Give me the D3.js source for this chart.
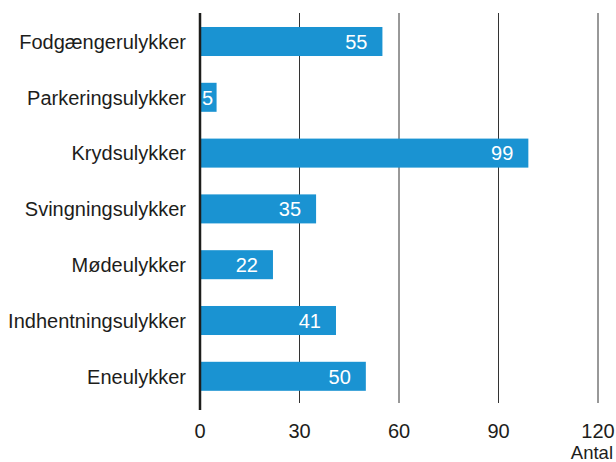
<!DOCTYPE html>
<html>
<head>
<meta charset="utf-8">
<script src="https://cdn.jsdelivr.net/npm/d3@7"></script>
<style>
	body { margin: 0; background: #fff; }
	text { font-family: "Liberation Sans", Arial, sans-serif; }
</style>
</head>
<body>
<div id="chart"></div>
<script>
var categories = ['Fodgængerulykker', 'Parkeringsulykker', 'Krydsulykker', 'Svingningsulykker', 'Mødeulykker', 'Indhentningsulykker', 'Eneulykker'];
var values = [55, 5, 99, 35, 22, 41, 50];
var ticks = [0, 30, 60, 90, 120];
var axisTitle = 'Antal';

var svg = d3.select('#chart').append('svg')
	.attr('width', 616)
	.attr('height', 462);

var x = d3.scaleLinear().domain([0, 120]).range([200, 598]);
var y = d3.scaleBand().domain(categories).range([13.6, 404.2])
	.paddingInner(0.48).paddingOuter(0.24);

// gridlines
svg.selectAll('.grid')
	.data(ticks.slice(1))
	.enter()
	.append('line')
	.attr('x1', function(d){ return x(d); })
	.attr('x2', function(d){ return x(d); })
	.attr('y1', 13)
	.attr('y2', 403)
	.attr('stroke', '#333')
	.attr('stroke-width', 1);

// bars
var data = categories.map(function(c, i){ return { cat: c, val: values[i] }; });

svg.selectAll('.bar')
	.data(data)
	.enter()
	.append('rect')
	.attr('x', x(0))
	.attr('y', function(d){ return y(d.cat); })
	.attr('width', function(d){ return x(d.val) - x(0); })
	.attr('height', y.bandwidth())
	.attr('fill', '#1a93d2');

// value labels
svg.selectAll('.val')
	.data(data)
	.enter()
	.append('text')
	.attr('x', function(d){ return Math.max(x(d.val) - 15, x(0) + 13); })
	.attr('y', function(d){ return y(d.cat) + y.bandwidth() / 2; })
	.attr('dy', '0.36em')
	.attr('text-anchor', 'end')
	.attr('fill', '#fff')
	.style('font-size', '20px')
	.text(function(d){ return d.val; });

// category labels
svg.selectAll('.cat')
	.data(categories)
	.enter()
	.append('text')
	.attr('x', 186)
	.attr('y', function(d){ return y(d) + y.bandwidth() / 2; })
	.attr('dy', '0.36em')
	.attr('text-anchor', 'end')
	.attr('fill', '#1d1d1b')
	.style('font-size', '20px')
	.text(function(d){ return d; });

// axis line
svg.append('line')
	.attr('x1', x(0)).attr('x2', x(0))
	.attr('y1', 13).attr('y2', 410)
	.attr('stroke', '#1d1d1b')
	.attr('stroke-width', 2.5);

// tick labels
svg.selectAll('.tick')
	.data(ticks)
	.enter()
	.append('text')
	.attr('x', function(d){ return x(d); })
	.attr('y', 438)
	.attr('text-anchor', 'middle')
	.attr('fill', '#1d1d1b')
	.style('font-size', '20px')
	.text(function(d){ return d; });

svg.append('text')
	.attr('x', 613)
	.attr('y', 459)
	.attr('text-anchor', 'end')
	.attr('fill', '#1d1d1b')
	.style('font-size', '18.5px')
	.text(axisTitle);
</script>
</body>
</html>
